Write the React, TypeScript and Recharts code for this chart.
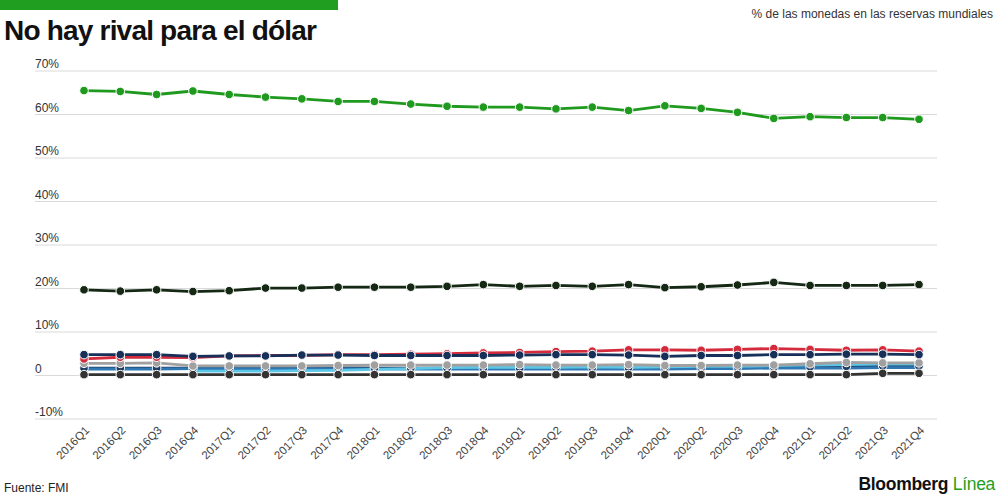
import React from 'react';
import { LineChart, Line, XAxis, YAxis, CartesianGrid } from 'recharts';

// quarters 2016Q1 .. 2021Q4
const quarters = [
  '2016Q1', '2016Q2', '2016Q3', '2016Q4',
  '2017Q1', '2017Q2', '2017Q3', '2017Q4',
  '2018Q1', '2018Q2', '2018Q3', '2018Q4',
  '2019Q1', '2019Q2', '2019Q3', '2019Q4',
  '2020Q1', '2020Q2', '2020Q3', '2020Q4',
  '2021Q1', '2021Q2', '2021Q3', '2021Q4',
];

// % share of world reserves
const usd = [65.5, 65.3, 64.6, 65.4, 64.6, 64.0, 63.6, 63.0, 63.0, 62.4, 61.9, 61.7, 61.7, 61.3, 61.7, 60.9, 62.0, 61.4, 60.5, 59.1, 59.5, 59.3, 59.3, 58.9];
const eur = [19.7, 19.4, 19.7, 19.3, 19.5, 20.1, 20.1, 20.3, 20.3, 20.3, 20.5, 20.9, 20.5, 20.7, 20.5, 20.9, 20.2, 20.4, 20.8, 21.4, 20.7, 20.7, 20.7, 20.9];
const jpy = [3.8, 4.2, 4.2, 4.1, 4.5, 4.6, 4.6, 4.8, 4.8, 4.9, 5.0, 5.2, 5.3, 5.5, 5.6, 5.9, 5.9, 5.8, 6.0, 6.2, 6.0, 5.8, 5.9, 5.6];
const gbp = [4.8, 4.8, 4.8, 4.4, 4.5, 4.5, 4.7, 4.7, 4.6, 4.6, 4.6, 4.6, 4.7, 4.8, 4.8, 4.7, 4.4, 4.6, 4.6, 4.8, 4.8, 4.9, 4.9, 4.8];
const others = [2.8, 2.8, 2.9, 2.2, 2.2, 2.2, 2.2, 2.3, 2.4, 2.4, 2.4, 2.4, 2.5, 2.4, 2.4, 2.5, 2.3, 2.3, 2.4, 2.4, 2.7, 3.0, 2.9, 2.9];
const chf = [0.2, 0.2, 0.2, 0.2, 0.2, 0.2, 0.2, 0.2, 0.2, 0.2, 0.2, 0.2, 0.2, 0.2, 0.2, 0.2, 0.2, 0.2, 0.2, 0.2, 0.2, 0.2, 0.5, 0.5];
const cny = [null, null, null, 1.0, 1.0, 1.0, 1.1, 1.2, 1.4, 1.6, 1.8, 1.9, 1.9, 1.9, 2.0, 1.9, 2.0, 2.1, 2.1, 2.3, 2.4, 2.5, 2.6, 2.6];
const cad = [1.7, 1.7, 1.7, 1.7, 1.7, 1.7, 1.8, 1.8, 1.7, 1.7, 1.7, 1.7, 1.7, 1.8, 1.8, 1.8, 1.8, 1.8, 1.9, 1.9, 2.0, 2.1, 2.2, 2.2];
const aud = [1.5, 1.5, 1.5, 1.6, 1.6, 1.6, 1.6, 1.6, 1.5, 1.5, 1.5, 1.5, 1.5, 1.5, 1.5, 1.5, 1.5, 1.6, 1.6, 1.7, 1.7, 1.7, 1.8, 1.8];

const yTicks = [-10, 0, 10, 20, 30, 40, 50, 60, 70];

const data = quarters.map((q, i) => ({
  q,
  usd: usd[i], eur: eur[i], jpy: jpy[i], gbp: gbp[i], others: others[i],
  chf: chf[i], cny: cny[i], cad: cad[i], aud: aud[i],
}));

// drawn bottom to top
const series = [
  { key: 'cad', color: '#1d3a62', dot: true },
  { key: 'aud', color: '#2f78b4', dot: false },
  { key: 'cny', color: '#5cc6e6', dot: false },
  { key: 'chf', color: '#333333', dot: true },
  { key: 'others', color: '#a0a0a0', dot: true },
  { key: 'jpy', color: '#d42b3c', dot: true },
  { key: 'gbp', color: '#17305a', dot: true },
  { key: 'eur', color: '#142814', dot: true },
  { key: 'usd', color: '#1f9a1f', dot: true },
];

const font = '"Liberation Sans", Arial, sans-serif';

const YTick = ({ y, payload }: any) => (
  <text x={35} y={y - 3} fontSize={12} fill="#333" fontFamily={font} textAnchor="start">
    {payload.value === 0 ? '0' : `${payload.value}%`}
  </text>
);

const XTick = ({ x, y, payload }: any) => {
  const ax = x + 6;
  const ay = y + 4;
  return (
    <text x={ax} y={ay} fontSize={11.5} fill="#444" fontFamily={font} textAnchor="end"
      transform={`rotate(-45, ${ax}, ${ay})`}>
      {payload.value}
    </text>
  );
};

export default function App() {
  return (
    <div style={{ position: 'absolute', left: 0, top: 0, width: 1000, height: 500, background: '#fff', overflow: 'hidden' }}>
      <div style={{ position: 'absolute', left: 0, top: 0, width: 338, height: 10, background: '#1f9e1f' }} />
      <div style={{ position: 'absolute', left: 4, top: 17, fontFamily: font, fontWeight: 700, fontSize: 28, letterSpacing: -0.8, color: '#111', lineHeight: 1 }}>
        No hay rival para el dólar
      </div>
      <div style={{ position: 'absolute', right: 7, top: 7, fontFamily: font, fontSize: 12, color: '#333' }}>
        % de las monedas en las reservas mundiales
      </div>
      <LineChart width={1000} height={500} data={data} margin={{ top: 71, right: 63, left: 5, bottom: 21 }}>
        <CartesianGrid vertical={false} stroke="#dadada" />
        <XAxis dataKey="q" axisLine={false} tickLine={false} height={60} interval={0}
          padding={{ left: 49, right: 18 }} tick={<XTick />} />
        <YAxis domain={[-10, 70]} ticks={yTicks} width={30} axisLine={false} tickLine={false}
          interval={0} tick={<YTick />} />
        {series.map((s) => (
          <Line
            key={s.key}
            dataKey={s.key}
            stroke={s.color}
            strokeWidth={2.8}
            dot={s.dot ? { r: 4.3, fill: s.color, stroke: '#fff', strokeWidth: 1 } : false}
            isAnimationActive={false}
          />
        ))}
      </LineChart>
      <div style={{ position: 'absolute', left: 4, top: 481, fontFamily: font, fontSize: 12, color: '#222' }}>
        Fuente: FMI
      </div>
      <div style={{ position: 'absolute', right: 5, top: 476, fontFamily: font, fontSize: 17.5, lineHeight: 1, letterSpacing: -0.3 }}>
        <span style={{ fontWeight: 700, color: '#111' }}>Bloomberg</span>{' '}
        <span style={{ color: '#1f9e1f' }}>Línea</span>
      </div>
    </div>
  );
}
